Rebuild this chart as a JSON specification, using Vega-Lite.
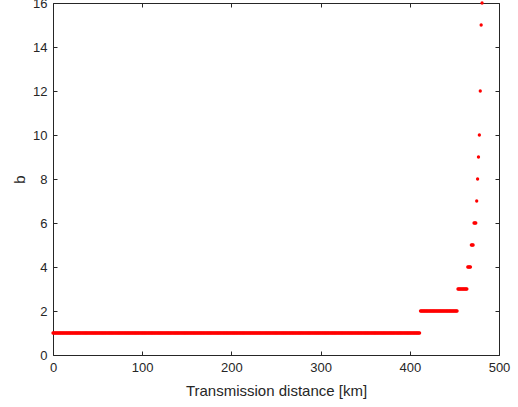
{
  "$schema": "https://vega.github.io/schema/vega-lite/v6.json",
  "autosize": "none",
  "width": 446,
  "height": 352,
  "padding": {"left": 53, "top": 3, "right": 19, "bottom": 52},
  "background": "white",
  "config": {
    "view": {"stroke": null},
    "font": "Liberation Sans",
    "axis": {
      "grid": false,
      "domainColor": "#262626",
      "domainWidth": 1,
      "tickColor": "#262626",
      "tickWidth": 1,
      "tickSize": -4,
      "labelFlush": false,
      "labelOverlap": false,
      "labelColor": "#262626",
      "labelFont": "Liberation Sans",
      "labelFontSize": 13,
      "titleColor": "#262626",
      "titleFont": "Liberation Sans",
      "titleFontSize": 15,
      "titleFontWeight": "normal"
    }
  },
  "data": {
    "values": [
      {"b": 1, "d": [0,1,2,3,4,5,6,7,8,9,10,11,12,13,14,15,16,17,18,19,20,21,22,23,24,25,26,27,28,29,30,31,32,33,34,35,36,37,38,39,40,41,42,43,44,45,46,47,48,49,50,51,52,53,54,55,56,57,58,59,60,61,62,63,64,65,66,67,68,69,70,71,72,73,74,75,76,77,78,79,80,81,82,83,84,85,86,87,88,89,90,91,92,93,94,95,96,97,98,99,100,101,102,103,104,105,106,107,108,109,110,111,112,113,114,115,116,117,118,119,120,121,122,123,124,125,126,127,128,129,130,131,132,133,134,135,136,137,138,139,140,141,142,143,144,145,146,147,148,149,150,151,152,153,154,155,156,157,158,159,160,161,162,163,164,165,166,167,168,169,170,171,172,173,174,175,176,177,178,179,180,181,182,183,184,185,186,187,188,189,190,191,192,193,194,195,196,197,198,199,200,201,202,203,204,205,206,207,208,209,210,211,212,213,214,215,216,217,218,219,220,221,222,223,224,225,226,227,228,229,230,231,232,233,234,235,236,237,238,239,240,241,242,243,244,245,246,247,248,249,250,251,252,253,254,255,256,257,258,259,260,261,262,263,264,265,266,267,268,269,270,271,272,273,274,275,276,277,278,279,280,281,282,283,284,285,286,287,288,289,290,291,292,293,294,295,296,297,298,299,300,301,302,303,304,305,306,307,308,309,310,311,312,313,314,315,316,317,318,319,320,321,322,323,324,325,326,327,328,329,330,331,332,333,334,335,336,337,338,339,340,341,342,343,344,345,346,347,348,349,350,351,352,353,354,355,356,357,358,359,360,361,362,363,364,365,366,367,368,369,370,371,372,373,374,375,376,377,378,379,380,381,382,383,384,385,386,387,388,389,390,391,392,393,394,395,396,397,398,399,400,401,402,403,404,405,406,407,408,409,410,411]},
      {"b": 2, "d": [412,413,414,415,416,417,418,419,420,421,422,423,424,425,426,427,428,429,430,431,432,433,434,435,436,437,438,439,440,441,442,443,444,445,446,447,448,449,450,451,452,453]},
      {"b": 3, "d": [454,455,456,457,458,459,460,461,462,463,464]},
      {"b": 4, "d": [465,466,467,468]},
      {"b": 5, "d": [469,470,471]},
      {"b": 6, "d": [472,473,474]},
      {"b": 7, "d": [475]},
      {"b": 8, "d": [476]},
      {"b": 9, "d": [477]},
      {"b": 10, "d": [478]},
      {"b": 12, "d": [479]},
      {"b": 15, "d": [480]},
      {"b": 16, "d": [481]}
    ]
  },
  "transform": [{"flatten": ["d"]}],
  "resolve": {"axis": {"x": "independent", "y": "independent"}},
  "layer": [
    {
      "mark": {"type": "point", "filled": true, "shape": "circle", "size": 11, "color": "#ff0000", "opacity": 1},
      "encoding": {
        "x": {
          "field": "d", "type": "quantitative",
          "scale": {"domain": [0, 500], "nice": false, "zero": false},
          "axis": {"orient": "bottom", "title": "Transmission distance [km]", "values": [0,100,200,300,400,500], "labelPadding": 10, "titlePadding": 9}
        },
        "y": {
          "field": "b", "type": "quantitative",
          "scale": {"domain": [0, 16], "nice": false},
          "axis": {"orient": "left", "title": "b", "values": [0,2,4,6,8,10,12,14,16], "labelPadding": 10, "titlePadding": 5}
        }
      }
    },
    {
      "mark": {"type": "point", "opacity": 0},
      "encoding": {
        "x": {
          "field": "d", "type": "quantitative",
          "axis": {"orient": "top", "title": null, "labels": false, "values": [0,100,200,300,400,500]}
        },
        "y": {
          "field": "b", "type": "quantitative",
          "axis": {"orient": "right", "title": null, "labels": false, "values": [0,2,4,6,8,10,12,14,16]}
        }
      }
    }
  ]
}
